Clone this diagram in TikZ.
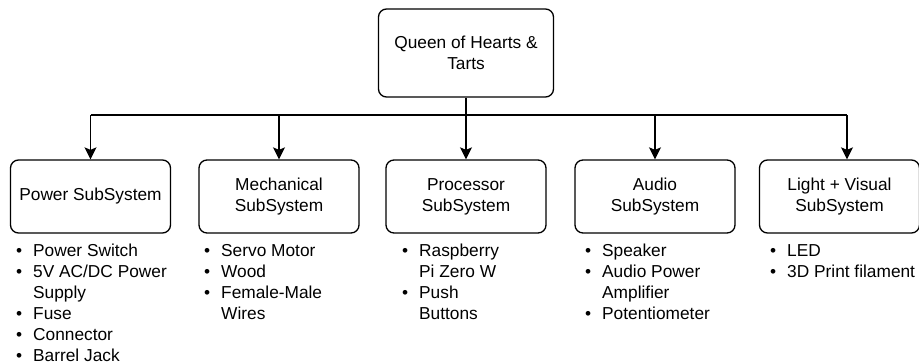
\documentclass[tikz,border=0pt]{standalone}
\usepackage{fontspec}
\setmainfont{Liberation Sans}
\usetikzlibrary{arrows.meta}

\tikzset{
  subbox/.style={draw, line width=1.3pt, rounded corners=8pt, minimum width=160pt, minimum height=73pt, align=center, inner sep=0pt},
  topbox/.style={subbox, minimum width=175pt, minimum height=88pt},
  arr/.style={line width=1.3pt, -{Stealth[length=12pt,width=12pt,inset=2.5pt]}},
  partlist/.style={anchor=north west, align=left, inner sep=0pt}
}
\newcommand{\itm}[1]{\makebox[17pt][l]{\textbullet}#1}
\newcommand{\cnt}[1]{\hspace*{17pt}#1}

\begin{document}
\begin{tikzpicture}[x=1pt,y=-1pt]
\fontsize{17.3}{21}\selectfont
\useasboundingbox (0,0) rectangle (919,364);

\node[topbox] (queen) at (466,53) {Queen of Hearts \&\\Tarts};

\node[subbox] (power) at (90.5,196.5) {Power SubSystem};
\node[subbox] (mech) at (279,196.5) {Mechanical\\SubSystem};
\node[subbox] (proc) at (466,196.5) {Processor\\SubSystem};
\node[subbox] (audio) at (655,196.5) {Audio\\SubSystem};
\node[subbox] (light) at (839.5,196.5) {Light + Visual\\SubSystem};

\coordinate (bus) at (0,115);
\coordinate (lightin) at ([xshift=7.5pt]light.north);

\draw[arr] (queen.south) -- (proc.north);
\draw[line width=1.3pt] (power.north |- bus) -- (lightin |- bus);
\foreach \b in {power,mech,audio,lightin}
  \draw[arr] (\b.north |- bus) -- (\b.north);

\node[partlist] (powerparts) at (16,244) {\itm{Power Switch}\\\itm{5V AC/DC Power}\\\cnt{Supply}\\\itm{Fuse}\\\itm{Connector}\\\itm{Barrel Jack}};
\node[partlist] (mechparts) at (204,244) {\itm{Servo Motor}\\\itm{Wood}\\\itm{Female-Male}\\\cnt{Wires}};
\node[partlist] (procparts) at (402,244) {\itm{Raspberry}\\\cnt{Pi Zero W}\\\itm{Push}\\\cnt{Buttons}};
\node[partlist] (audioparts) at (585,244) {\itm{Speaker}\\\itm{Audio Power}\\\cnt{Amplifier}\\\itm{Potentiometer}};
\node[partlist] (lightparts) at (770,244) {\itm{LED}\\\itm{3D Print filament}};
\end{tikzpicture}
\end{document}
